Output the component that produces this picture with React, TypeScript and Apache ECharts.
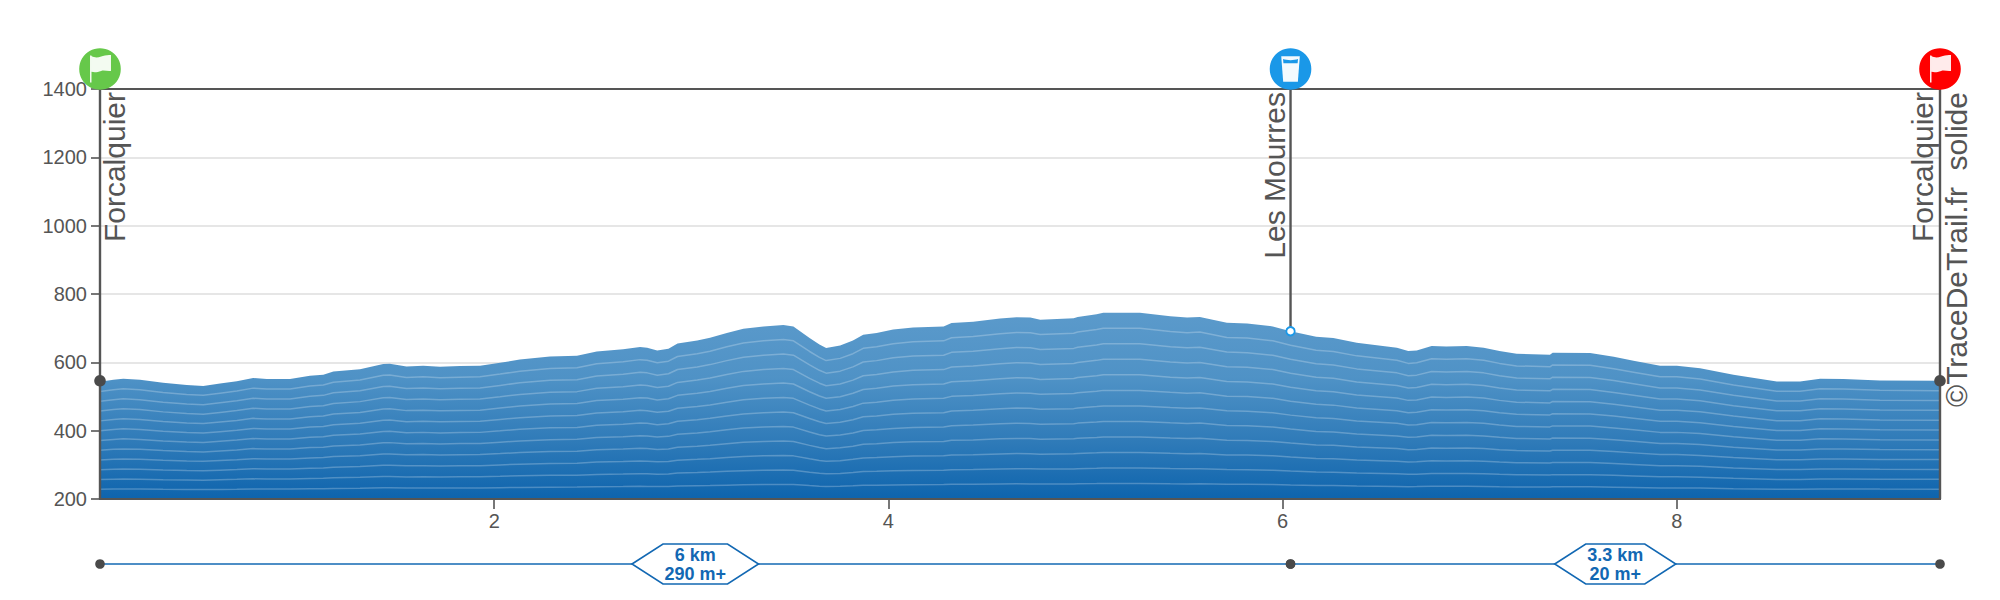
import React, { useEffect, useRef } from "react";
import * as echarts from "echarts";

// Elevation profile
const profileKm = [
  0, 0.068, 0.118, 0.203, 0.32, 0.44, 0.524, 0.609, 0.694, 0.777, 0.846, 0.964, 1.065, 1.133, 1.184, 1.319, 1.437, 1.47,
  1.555, 1.64, 1.725, 1.826, 1.928, 2.03, 2.13, 2.283, 2.42, 2.52, 2.654, 2.74, 2.776, 2.827, 2.884, 2.93, 3.03, 3.095,
  3.18, 3.264, 3.366, 3.467, 3.518, 3.6, 3.65, 3.684, 3.755, 3.82, 3.872, 3.94, 4.024, 4.125, 4.28, 4.32, 4.43, 4.566,
  4.65, 4.72, 4.77, 4.94, 4.96, 5.056, 5.09, 5.276, 5.43, 5.515, 5.58, 5.717, 5.82, 5.95, 6.04, 6.17, 6.257, 6.376,
  6.58, 6.637, 6.68, 6.756, 6.83, 6.934, 7.02, 7.1, 7.187, 7.356, 7.37, 7.56, 7.68, 7.78, 7.915, 8.0, 8.118, 8.287,
  8.507, 8.625, 8.727, 8.845, 9.03, 9.335,
];
const profileEle = [
  543, 549, 552, 549, 540, 534, 531, 538, 545, 554, 551, 551, 561, 564, 573, 580, 595, 596,
  588, 590, 587, 589, 590, 599, 608, 617, 619, 632, 638, 645, 643, 635, 640, 655, 664, 672,
  686, 698, 705, 709, 705, 671, 652, 642, 649, 664, 681, 686, 696, 702, 705, 715, 719, 728,
  732, 731, 725, 729, 733, 741, 745, 745, 735, 731, 733, 716, 714, 705, 691, 675, 671, 657,
  643, 633, 635, 648, 646, 648, 643, 633, 625, 622, 628, 627, 616, 605, 590, 590, 583, 564,
  544, 544, 552, 551, 547, 546,
];

// Waypoints
const waypointKm = [0, 6.04, 9.335];
const waypointEle = [546, 691, 546];
const waypointNames = ["Forcalquier", "Les Mourres", "Forcalquier"];
const waypointKinds = ["start", "water", "finish"];

// Sections under the chart
const sectionStart = [0, 6.04];
const sectionEnd = [6.04, 9.335];
const sectionDistance = ["6 km", "3.3 km"];
const sectionGain = ["290 m+", "20 m+"];

// Axes
const xTicks = [2, 4, 6, 8];
const yMin = 200;
const yMax = 1400;
const xMax = 9.335;
const bandCount = 12;
const credit = "©TraceDeTrail.fr\u00a0\u00a0solide";

const FONT = '"Liberation Sans", Helvetica, Arial, sans-serif';
const INK = "#555555";
const DOT = "#4a4a4a";
const BLUE = "#1268b3";

const FLAG = "M0 1H1.6V30H0Z M1.6 1.5C5 3.5 8 3.5 12 2C15 1 19 0 22.6 0.5V17.5C19 18 15 16.5 12 17.5C8 19 5 19.5 1.6 18.5Z";
const GLASS = "M0 0H19L17 26H2Z";
const WATER = "M2.2 3.5C6 5 13 5 16.8 3.5L16.4 7.5H2.6Z";

const ICON_COLOR: Record<string, string> = { start: "#66c84a", water: "#1a98e8", finish: "#ff0000" };

function textWidth(text: string, font: string) {
  const ctx = document.createElement("canvas").getContext("2d") as CanvasRenderingContext2D;
  ctx.font = font;
  return ctx.measureText(text).width;
}

function renderWaypoint(params: any, api: any) {
  const i = params.dataIndex;
  const kind = waypointKinds[i];
  const [x, y] = api.coord([api.value(0), api.value(1)]);
  const top = api.coord([0, yMax])[1];
  const bottom = api.coord([0, yMin])[1];
  const color = ICON_COLOR[kind];
  const cy = top - 20;
  const baselineShift = kind === "start" ? 29 : kind === "water" ? -1 : -3;
  const icon: any[] =
    kind === "water"
      ? [
          { type: "path", shape: { pathData: GLASS, x: x - 9.3, y: cy - 13, width: 18.6, height: 26 }, style: { fill: "#fff", opacity: 0.95 } },
          { type: "path", shape: { pathData: WATER, x: x - 7.5, y: cy - 10, width: 15, height: 4.2 }, style: { fill: color } },
        ]
      : [
          { type: "path", shape: { pathData: FLAG, x: x - 10.7, y: cy - 14, width: 22.4, height: 27.5 }, style: { fill: "#fff", opacity: 0.92 } },
        ];
  const dot =
    kind === "water"
      ? { type: "circle", shape: { cx: x, cy: y, r: 4.2 }, style: { fill: "#fff", stroke: color, lineWidth: 1.8 } }
      : { type: "circle", shape: { cx: x, cy: y, r: 5.8 }, style: { fill: DOT } };
  const lineEnd = kind === "water" ? y : bottom;
  return {
    type: "group",
    children: [
      { type: "line", shape: { x1: x, y1: top, x2: x, y2: lineEnd }, style: { stroke: INK, lineWidth: 2.4 } },
      dot,
      {
        type: "text",
        x: x + baselineShift,
        y: top + 3,
        rotation: Math.PI / 2,
        style: { text: waypointNames[i], fill: INK, font: `30px ${FONT}`, align: "right", verticalAlign: "bottom" },
      },
      { type: "circle", shape: { cx: x, cy, r: 20.8 }, style: { fill: color } },
      ...icon,
    ],
  };
}

function renderSection(params: any, api: any) {
  const i = params.dataIndex;
  const x1 = api.coord([api.value(0), yMin])[0];
  const x2 = api.coord([api.value(1), yMin])[0];
  const bottom = api.coord([0, yMin])[1];
  const y = bottom + 65;
  const cx = (x1 + x2) / 2;
  const font = `bold 18px ${FONT}`;
  const half = Math.max(textWidth(sectionDistance[i], font), textWidth(sectionGain[i], font)) / 2;
  const flat = half + 1.5;
  const tip = flat + 31;
  return {
    type: "group",
    children: [
      { type: "line", shape: { x1, y1: y, x2, y2: y }, style: { stroke: BLUE, lineWidth: 1.6 } },
      {
        type: "polygon",
        shape: {
          points: [
            [cx - tip, y],
            [cx - flat, y - 20],
            [cx + flat, y - 20],
            [cx + tip, y],
            [cx + flat, y + 20],
            [cx - flat, y + 20],
          ],
        },
        style: { fill: "#fff", stroke: BLUE, lineWidth: 1.6 },
      },
      { type: "text", x: cx, y: y - 9, style: { text: sectionDistance[i], fill: BLUE, font, align: "center", verticalAlign: "middle" } },
      { type: "text", x: cx, y: y + 10, style: { text: sectionGain[i], fill: BLUE, font, align: "center", verticalAlign: "middle" } },
      { type: "circle", shape: { cx: x1, cy: y, r: 4.8 }, style: { fill: DOT } },
      { type: "circle", shape: { cx: x2, cy: y, r: 4.8 }, style: { fill: DOT } },
    ],
  };
}

export default function App() {
  const ref = useRef<HTMLDivElement>(null);
  useEffect(() => {
    document.body.style.margin = "0";
    document.body.style.background = "#fff";
    const chart = echarts.init(ref.current as HTMLDivElement, undefined, { renderer: "svg" });
    const profile = profileKm.map((km, i) => [km, profileEle[i]]);
    const contours = Array.from({ length: bandCount - 1 }, (_, k) => ({
      type: "line",
      silent: true,
      showSymbol: false,
      z: 3,
      lineStyle: { color: "rgba(255,255,255,0.24)", width: 1.5 },
      data: profile.map(([km, e]) => [km, yMin + ((e - yMin) * (k + 1)) / bandCount]),
    }));
    chart.setOption({
      animation: false,
      backgroundColor: "#ffffff",
      grid: { left: 100, right: 60, top: 89, height: 410, show: true, borderColor: INK, borderWidth: 2, backgroundColor: "transparent" },
      xAxis: {
        type: "value",
        min: 0,
        max: xMax,
        z: 5,
        splitLine: { show: false },
        axisLine: { show: true, lineStyle: { color: INK, width: 2 } },
        axisTick: { show: true, length: 10, customValues: xTicks, lineStyle: { color: INK, width: 1.6 } },
        axisLabel: { customValues: xTicks, color: INK, fontSize: 20, fontFamily: FONT, margin: 12 },
      },
      yAxis: {
        type: "value",
        min: yMin,
        max: yMax,
        interval: 200,
        splitLine: { show: true, showMaxLine: false, showMinLine: false, lineStyle: { color: "#e6e6e6", width: 2 } },
        axisLine: { show: true, lineStyle: { color: INK, width: 2 } },
        axisTick: { show: true, length: 9, lineStyle: { color: INK, width: 1.6 } },
        axisLabel: { color: INK, fontSize: 20, fontFamily: FONT, margin: 13, formatter: (v: number) => String(v) },
      },
      series: [
        {
          type: "line",
          silent: true,
          showSymbol: false,
          z: 2,
          lineStyle: { width: 0 },
          areaStyle: {
            opacity: 1,
            color: new echarts.graphic.LinearGradient(0, 0, 0, 1, [
              { offset: 0, color: "#5b9acb" },
              { offset: 0.35, color: "#4f92c6" },
              { offset: 0.7, color: "#2e7ab8" },
              { offset: 1, color: "#0e64ad" },
            ]),
          },
          data: profile,
        },
        ...contours,
        {
          type: "custom",
          silent: true,
          clip: false,
          z: 6,
          renderItem: renderWaypoint,
          data: waypointKm.map((km, i) => [km, waypointEle[i]]),
        },
        {
          type: "custom",
          silent: true,
          clip: false,
          z: 6,
          renderItem: renderSection,
          data: sectionStart.map((s, i) => [s, sectionEnd[i]]),
        },
      ],
      graphic: [
        {
          type: "text",
          x: 1940 + 31,
          y: 92,
          rotation: Math.PI / 2,
          z: 10,
          style: { text: credit, fill: INK, font: `30px ${FONT}`, align: "right", verticalAlign: "bottom" },
        },
      ],
    });
    return () => chart.dispose();
  }, []);
  return <div ref={ref} style={{ position: "fixed", left: 0, top: 0, width: 2000, height: 600 }} />;
}
